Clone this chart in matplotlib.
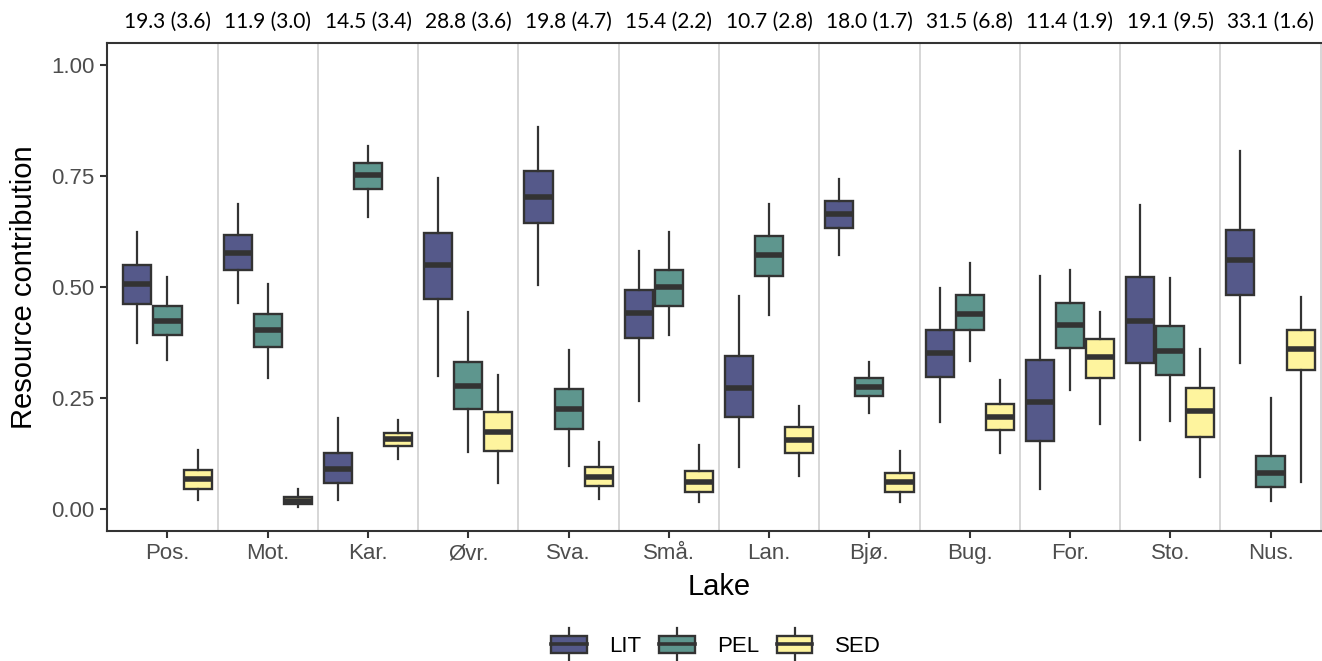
import numpy as np
import matplotlib
matplotlib.use("Agg")
from matplotlib import pyplot as plt
from matplotlib.patches import Rectangle
from matplotlib.lines import Line2D
from matplotlib.legend_handler import HandlerBase

# Lakes and the numbers shown above each lake
lakes = ["Pos.", "Mot.", "Kar.", "Øvr.", "Sva.", "Små.", "Lan.", "Bjø.",
         "Bug.", "For.", "Sto.", "Nus."]
top_labels = ["19.3 (3.6)", "11.9 (3.0)", "14.5 (3.4)", "28.8 (3.6)",
              "19.8 (4.7)", "15.4 (2.2)", "10.7 (2.8)", "18.0 (1.7)",
              "31.5 (6.8)", "11.4 (1.9)", "19.1 (9.5)", "33.1 (1.6)"]

sources = ["LIT", "PEL", "SED"]

# box stats per lake: [whisker low, q1, median, q3, whisker high]
lit = [[0.374, 0.462, 0.507, 0.550, 0.624],
       [0.463, 0.539, 0.577, 0.616, 0.686],
       [0.020, 0.058, 0.089, 0.125, 0.205],
       [0.299, 0.473, 0.550, 0.622, 0.746],
       [0.504, 0.645, 0.703, 0.760, 0.860],
       [0.243, 0.386, 0.442, 0.493, 0.580],
       [0.094, 0.206, 0.273, 0.344, 0.479],
       [0.572, 0.633, 0.665, 0.694, 0.743],
       [0.195, 0.297, 0.352, 0.402, 0.498],
       [0.046, 0.152, 0.240, 0.335, 0.524],
       [0.155, 0.329, 0.424, 0.523, 0.685],
       [0.329, 0.482, 0.560, 0.628, 0.806]]

pel = [[0.335, 0.392, 0.424, 0.458, 0.522],
       [0.296, 0.365, 0.402, 0.438, 0.507],
       [0.658, 0.721, 0.752, 0.779, 0.818],
       [0.129, 0.225, 0.276, 0.330, 0.443],
       [0.097, 0.180, 0.225, 0.269, 0.359],
       [0.391, 0.458, 0.499, 0.538, 0.624],
       [0.437, 0.525, 0.571, 0.614, 0.686],
       [0.215, 0.254, 0.275, 0.296, 0.332],
       [0.334, 0.402, 0.440, 0.481, 0.554],
       [0.267, 0.362, 0.415, 0.463, 0.539],
       [0.198, 0.301, 0.356, 0.411, 0.521],
       [0.017, 0.049, 0.080, 0.119, 0.249]]

sed = [[0.020, 0.045, 0.067, 0.088, 0.132],
       [0.005, 0.011, 0.019, 0.028, 0.046],
       [0.112, 0.141, 0.157, 0.172, 0.200],
       [0.059, 0.131, 0.174, 0.219, 0.302],
       [0.022, 0.051, 0.073, 0.094, 0.150],
       [0.015, 0.039, 0.060, 0.085, 0.145],
       [0.074, 0.127, 0.156, 0.184, 0.231],
       [0.015, 0.038, 0.061, 0.080, 0.131],
       [0.125, 0.177, 0.207, 0.236, 0.290],
       [0.192, 0.294, 0.342, 0.383, 0.443],
       [0.073, 0.163, 0.220, 0.273, 0.360],
       [0.061, 0.314, 0.361, 0.402, 0.478]]

colors = ["#55598A", "#5E968E", "#FEF49E"]
edge = "#333333"

plt.rcParams["font.family"] = ["Liberation Sans", "DejaVu Sans"]

fig = plt.figure(figsize=(13.22, 6.61), dpi=100)
# panel runs past the right edge (reference is cropped there)
ax = fig.add_axes([107.3 / 1322, 1 - 530.7 / 661, 1223.4 / 1322, 488.0 / 661])

x = np.arange(1, len(lakes) + 1)
offsets = [-0.3, 0.0, 0.3]

for data, off, col in zip([lit, pel, sed], offsets, colors):
    stats = []
    for s in data:
        stats.append(dict(whislo=s[0], q1=s[1], med=s[2], q3=s[3], whishi=s[4], fliers=[]))
    ax.bxp(stats, positions=x + off, widths=0.28, patch_artist=True,
           showcaps=False, showfliers=False,
           boxprops=dict(facecolor=col, edgecolor=edge, linewidth=1.7),
           medianprops=dict(color=edge, linewidth=4.0, solid_capstyle="butt"),
           whiskerprops=dict(color=edge, linewidth=1.6),
           manage_ticks=False, zorder=3)

# vertical separators between lakes
for b in np.arange(1.5, len(lakes) + 0.6, 1.0):
    ax.axvline(b, color="#CFCFCF", linewidth=1.2, zorder=1)

ax.set_xlim(0.4, 12.6)
ax.set_ylim(-0.049, 1.05)
ax.set_xticks(x)
ax.set_xticklabels(lakes)
ax.set_yticks([0, 0.25, 0.5, 0.75, 1.0])
ax.set_yticklabels(["0.00", "0.25", "0.50", "0.75", "1.00"])
ax.tick_params(axis="both", colors=edge, width=1.5, length=5, labelsize=16,
               labelcolor="#4D4D4D", pad=4)

for side in ["left", "bottom", "top"]:
    ax.spines[side].set_color(edge)
    ax.spines[side].set_linewidth(1.5)
ax.spines["right"].set_visible(False)

ax.set_xlabel("Lake", fontsize=21, labelpad=6)
ax.set_ylabel("Resource contribution", fontsize=21, labelpad=10)

# numbers above each lake
for xi, lab in zip(x, top_labels):
    ax.text(xi, 1.043, lab, transform=ax.get_xaxis_transform(), ha="center",
            va="center", fontsize=15, family=["Lato", "DejaVu Sans"])


class BoxHandler(HandlerBase):
    def create_artists(self, legend, orig_handle, xdescent, ydescent,
                       width, height, fontsize, trans):
        x0, y0 = -xdescent, -ydescent
        bh = height * 0.75
        by = y0 + (height - bh) / 2
        cx = x0 + width / 2
        rect = Rectangle((x0, by), width, bh, facecolor=orig_handle.get_facecolor(),
                         edgecolor=edge, linewidth=1.7, transform=trans)
        med = Line2D([x0, x0 + width], [by + bh / 2] * 2, color=edge, linewidth=2.6,
                     transform=trans)
        w1 = Line2D([cx, cx], [by + bh, y0 + height * 1.25], color=edge, linewidth=1.6,
                    transform=trans)
        w2 = Line2D([cx, cx], [by, y0 - height * 0.25], color=edge, linewidth=1.6,
                    transform=trans)
        return [w1, w2, rect, med]


handles = [Rectangle((0, 0), 1, 1, facecolor=c) for c in colors]
fig.legend(handles, sources, loc="center", bbox_to_anchor=(716 / 1322, 1 - 645 / 661),
           ncol=3, frameon=False, fontsize=16, handler_map={Rectangle: BoxHandler()},
           handlelength=1.6, handleheight=1.15, handletextpad=1.0, columnspacing=0.8)

fig.savefig("out.png", dpi=100)
